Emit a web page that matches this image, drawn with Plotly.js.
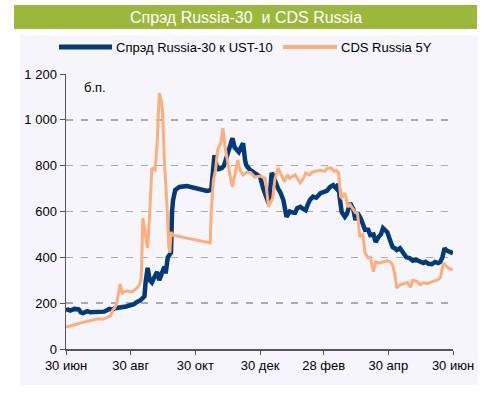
<!DOCTYPE html>
<html>
<head>
<meta charset="utf-8">
<script src="https://cdn.plot.ly/plotly-3.0.1.min.js"></script>
<style>html,body{margin:0;padding:0;background:#fff;}#chart{width:485px;height:403px;}</style>
</head>
<body>
<div id="chart"></div>
<script>
// Days counted from 30 Jun 2008
const tickDays = [0, 61, 122, 183, 243, 304, 365];
const tickLabels = ["30 июн", "30 авг", "30 окт", "30 дек", "28 фев", "30 апр", "30 июн"];
const yTickVals = [0, 200, 400, 600, 800, 1000, 1200];
const yTickLabels = ["0", "200", "400", "600", "800", "1 000", "1 200"];

const spreadName = "Спрэд Russia-30 к UST-10";
const spreadDays = [0,2,4,8,12,14,16,20,23,27,32,36,41,44,46,50,53,57,60,64,67,70,73,74,75,77,79,81,84,86,88,90,92,93,94,96,98,99,100,101,103,107,114,124,133,137,138,140,142,144,147,149,151,153,155,157,159,161,163,165,167,169,170,172,174,178,183,186,188,190,192,194,195,197,200,202,205,208,211,214,216,218,221,224,226,228,230,233,236,240,243,246,249,252,255,257,258,260,263,265,268,271,273,275,278,280,282,285,287,290,292,295,297,299,301,303,306,308,310,312,315,318,321,324,327,330,334,337,339,342,345,348,351,353,355,357,359,362,364,365];
const spreadVals = [170,172,168,175,173,160,157,165,160,162,165,163,175,172,178,180,183,185,190,195,205,212,225,230,288,354,300,290,320,336,300,330,350,358,330,400,410,420,600,650,694,707,711,702,690,694,750,846,800,785,790,800,830,860,880,920,880,868,860,880,898,820,803,790,780,768,752,700,680,650,660,768,760,730,700,685,650,577,600,595,594,614,620,610,605,630,650,665,660,680,686,690,707,715,700,720,665,598,577,590,637,610,563,594,570,540,520,520,497,500,467,490,500,528,520,510,470,445,440,432,440,419,400,397,385,390,380,375,380,372,370,380,375,380,400,440,430,425,420,418];

const cdsName = "CDS Russia 5Y";
const cdsDays = [0,4,7,10,13,17,20,23,26,30,35,38,42,44,46,48,51,53,55,58,62,65,67,70,71,72.5,75,77,79,81,84,86,88,90,91,93,95,96,97,98,99,101,136,137,139,141,143,146,148,150,152,153,155,157,159,160,162,164,167,170,174,178,183,188,191,193,195,197,200,203,206,209,211,213,216,221,224,226,230,232,235,240,244,247,250,253,255,257,259,260,263,266,268,271,273,275,277,280,282,285,287,290,292,295,299,301,303,306,308,310,312,315,318,320,322,325,327,331,334,337,341,343,346,350,353,356,359,362,365];
const cdsVals = [96,100,105,108,113,118,122,126,130,132,130,135,144,170,180,200,284,244,250,253,250,258,266,288,314,572,500,440,600,790,781,900,1117,1080,1043,800,650,555,445,420,510,497,463,600,737,780,868,900,964,880,825,790,750,707,760,780,825,780,760,770,770,750,755,745,620,640,660,740,790,760,730,760,745,752,760,725,745,768,760,772,775,780,775,790,790,775,780,770,665,660,680,620,630,610,595,590,490,500,420,397,400,337,380,375,380,385,385,380,367,330,266,280,285,285,290,270,300,295,280,290,285,290,295,300,310,375,360,350,345];

const FONT = "'Liberation Sans', Arial, sans-serif";
const BLUE = "#003A78";
const ORANGE = "#FFAD7A";
const PANEL = "#F5F5FB";

// plot area: x 66..453, y 74..349 (pixels)
const px = v => (v - 66) / 387;
const py = v => (349 - v) / 275;

const traces = [
  {x: spreadDays, y: spreadVals, name: spreadName, type: "scatter", mode: "lines",
   line: {color: BLUE, width: 4.5}},
  {x: cdsDays, y: cdsVals, name: cdsName, type: "scatter", mode: "lines",
   line: {color: ORANGE, width: 3}}
];

const layout = {
  width: 485, height: 403,
  margin: {l: 66, r: 32, t: 74, b: 54},
  paper_bgcolor: "#ffffff",
  plot_bgcolor: PANEL,
  showlegend: false,
  font: {family: FONT, size: 13, color: "#000"},
  title: {text: "Спрэд Russia-30\u00a0 и CDS Russia", font: {family: FONT, size: 16, color: "#ffffff"},
          x: 246 / 485, xref: "container", y: 1 - 17.5 / 403, yref: "container", xanchor: "center", yanchor: "middle"},
  xaxis: {range: [0, 365], tickvals: tickDays, ticktext: tickLabels, showgrid: false, zeroline: false,
          showline: true, linecolor: "#555", linewidth: 1.5, ticks: "outside", ticklen: 4, tickcolor: "#555",
          tickfont: {family: FONT, size: 13, color: "#000"}, fixedrange: true},
  yaxis: {range: [0, 1200], tickvals: yTickVals, ticktext: yTickLabels, showgrid: true, gridcolor: "#ABABAB",
          gridwidth: 1.5, griddash: "7px,8px", zeroline: false, showline: true, linecolor: "#555", linewidth: 1.5,
          ticks: "outside", ticklen: 5, tickcolor: "#555", tickfont: {family: FONT, size: 13, color: "#000"}, fixedrange: true},
  shapes: [
    {type: "rect", xref: "paper", yref: "paper", x0: px(20), x1: px(478), y0: py(385), y1: py(35),
     fillcolor: PANEL, line: {width: 0}, layer: "below"},
    {type: "rect", xref: "paper", yref: "paper", x0: px(14), x1: px(477), y0: py(29), y1: py(5),
     fillcolor: "#9BB83D", line: {width: 0}, layer: "below"},
    {type: "line", xref: "paper", yref: "paper", x0: px(59), x1: px(112), y0: py(47), y1: py(47),
     line: {color: BLUE, width: 5}},
    {type: "line", xref: "paper", yref: "paper", x0: px(283), x1: px(337), y0: py(47), y1: py(47),
     line: {color: ORANGE, width: 4}}
  ],
  annotations: [
    {xref: "paper", yref: "paper", x: px(114), y: py(47), text: spreadName, showarrow: false,
     xanchor: "left", yanchor: "middle", font: {family: FONT, size: 13, color: "#000"}},
    {xref: "paper", yref: "paper", x: px(339), y: py(47), text: cdsName, showarrow: false,
     xanchor: "left", yanchor: "middle", font: {family: FONT, size: 13, color: "#000"}},
    {xref: "paper", yref: "paper", x: px(82), y: py(87), text: "б.п.", showarrow: false,
     xanchor: "left", yanchor: "middle", font: {family: FONT, size: 13, color: "#000"}}
  ]
};

Plotly.newPlot("chart", traces, layout, {staticPlot: true, displayModeBar: false});
</script>
</body>
</html>
